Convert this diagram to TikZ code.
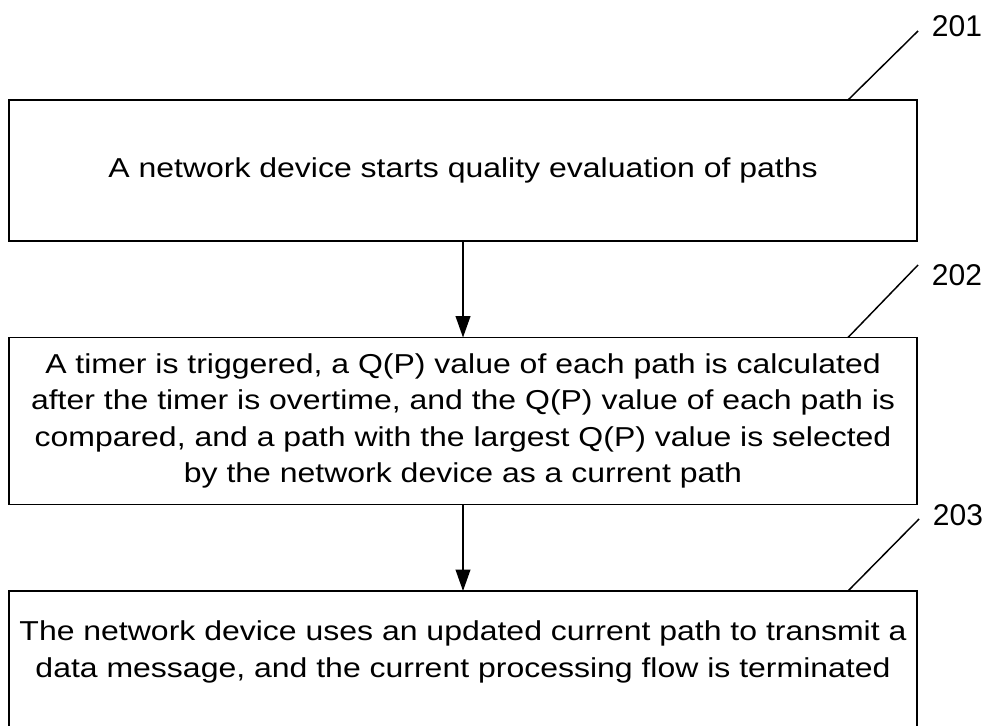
\documentclass[tikz,border=0pt]{standalone}
\usepackage{fontspec}
\setmainfont{Liberation Sans}
\newfontfamily\boxfont[FakeStretch=1.17]{Liberation Sans}
\usetikzlibrary{arrows.meta}
\begin{document}
\begin{tikzpicture}[x=0.75pt,y=-0.75pt,
  stepbox/.style={draw,line width=1.2pt,inner sep=0pt,outer sep=0pt,minimum width=681pt,align=center,
    font=\boxfont\fontsize{20.5}{27.4}\selectfont},
  txtbox/.style={inner sep=0pt,outer sep=0pt,minimum width=681pt,align=center,
    font=\boxfont\fontsize{20.5}{27.4}\selectfont},
  reflabel/.style={inner sep=0pt,font=\fontsize{22.5}{27}\selectfont},
  leader/.style={line width=1.1pt},
  flow/.style={line width=1.2pt,-{Triangle[length=16pt,width=11pt]}}]
\useasboundingbox (0,0) rectangle (988,725);
\node[stepbox,minimum height=105.75pt] (b1) at (463,170.5) {A network device starts quality evaluation of paths};
\node[stepbox,minimum height=125.25pt] (b2) at (463,421) {A timer is triggered, a Q(P) value of each path is calculated\\after the timer is overtime, and the Q(P) value of each path is\\compared, and a path with the largest Q(P) value is selected\\by the network device as a current path};
\node[txtbox,minimum height=91.5pt] (b3) at (463,652) {The network device uses an updated current path to transmit a\\data message, and the current processing flow is terminated};
\coordinate (bot) at (0,732);
\draw[line width=1.2pt] (bot -| b3.west) -- (b3.north west) -- (b3.north east) -- (bot -| b3.east);
\draw[flow] (b1.south) -- (b2.north);
\draw[flow] (b2.south) -- (b3.north);
\node[reflabel] (l1) at (957,26) {201};
\node[reflabel] (l2) at (957,275) {202};
\node[reflabel] (l3) at (958,515) {203};
\coordinate (e1) at (918,31);
\coordinate (e2) at (918,265);
\coordinate (e3) at (919,519);
\draw[leader] ([xshift=-51.75pt]b1.north east) -- (e1);
\draw[leader] ([xshift=-51.75pt]b2.north east) -- (e2);
\draw[leader] ([xshift=-51.75pt]b3.north east) -- (e3);
\end{tikzpicture}
\end{document}
